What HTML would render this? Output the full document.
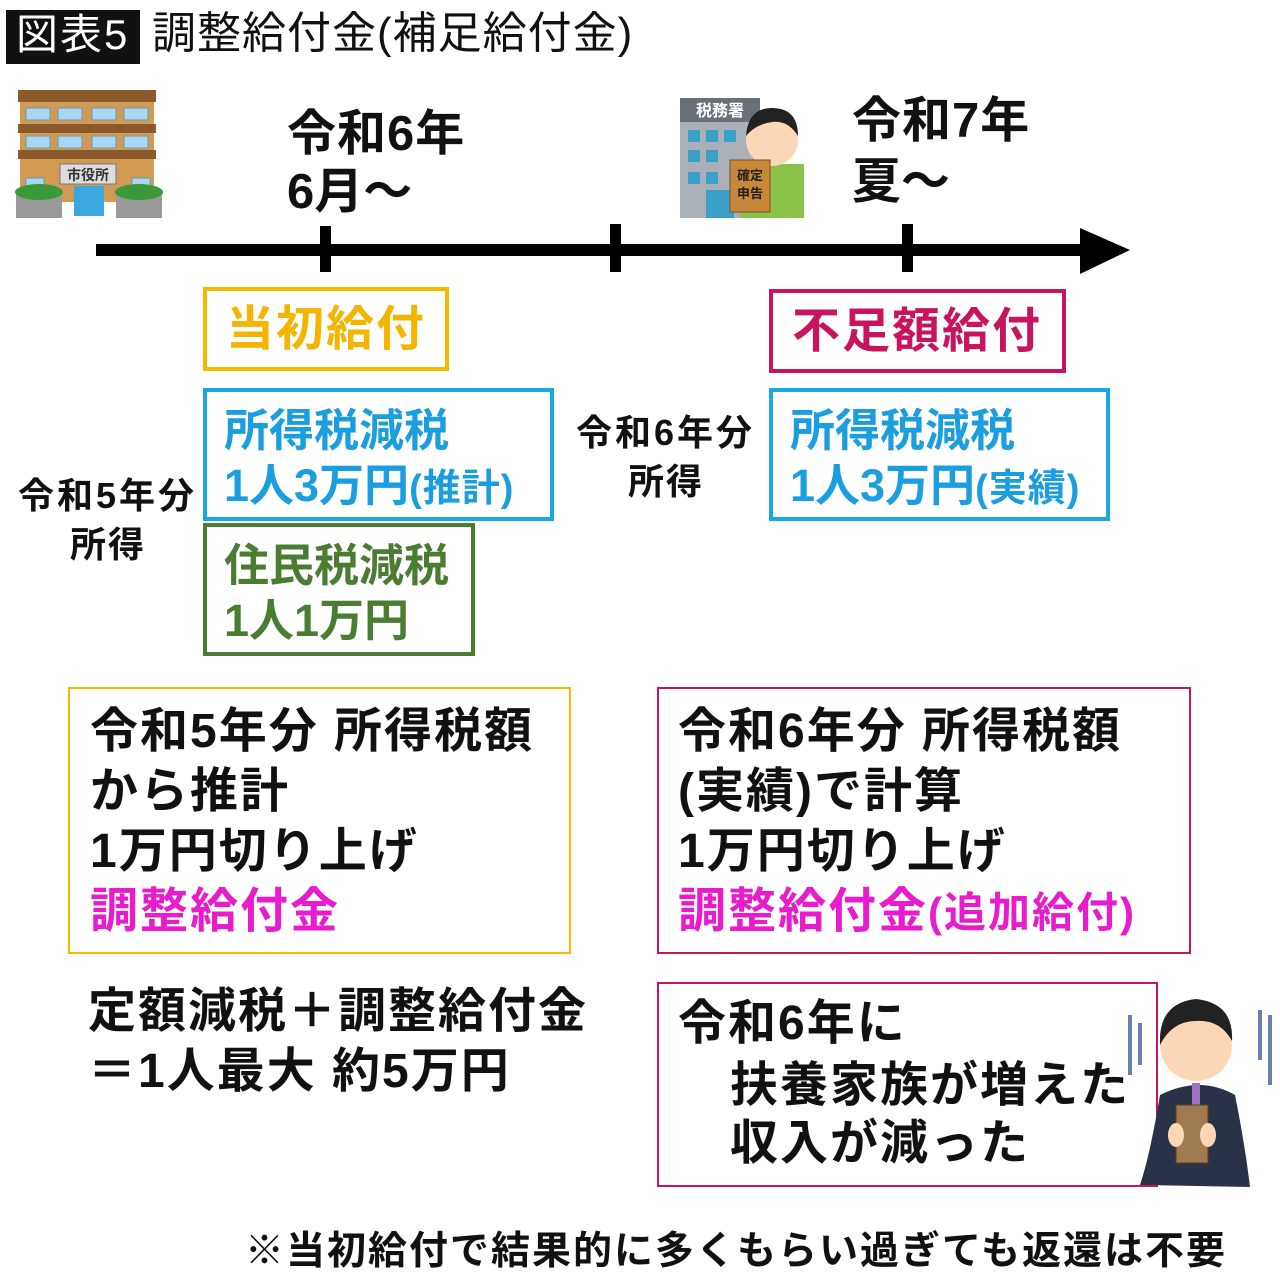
<!DOCTYPE html>
<html><head><meta charset="utf-8">
<style>
body{margin:0;width:1280px;height:1275px;background:#fff;position:relative;overflow:hidden;font-family:"Liberation Sans","Noto Sans CJK JP",sans-serif;font-weight:bold;color:#111}
.t{position:absolute;line-height:1;white-space:nowrap}
.b{position:absolute;box-sizing:border-box}
.k{font-size:48px;letter-spacing:2px}
</style></head><body>
<!-- title -->
<div class="b" style="left:6px;top:10px;width:134px;height:54px;background:#111"></div>
<div class="t" style="left:16px;top:14px;font-size:42px;color:#fff;font-weight:normal;letter-spacing:2px">図表5</div>
<div class="t" style="left:152px;top:12px;font-size:44px;font-weight:normal;letter-spacing:1px">調整給付金(補足給付金)</div>

<!-- city hall icon -->
<svg style="position:absolute;left:14px;top:86px" width="152" height="135">
<rect x="4" y="4" width="138" height="12" fill="#8a5a2b"/>
<rect x="6" y="16" width="134" height="100" fill="#d39a55"/>
<rect x="4" y="38" width="138" height="9" fill="#8a5a2b"/>
<rect x="4" y="64" width="138" height="9" fill="#8a5a2b"/>
<g fill="#a8d8f0" stroke="#6a9ab0"><rect x="12" y="22" width="24" height="12"/><rect x="44" y="22" width="24" height="12"/><rect x="78" y="22" width="24" height="12"/><rect x="110" y="22" width="24" height="12"/>
<rect x="12" y="50" width="24" height="12"/><rect x="44" y="50" width="24" height="12"/><rect x="78" y="50" width="24" height="12"/><rect x="110" y="50" width="24" height="12"/>
<rect x="12" y="92" width="18" height="12"/><rect x="118" y="92" width="18" height="12"/></g>
<rect x="46" y="78" width="56" height="20" fill="#ddd" stroke="#777"/>
<text x="74" y="94" font-size="14" text-anchor="middle" fill="#333" font-family="Noto Sans CJK JP">市役所</text>
<rect x="60" y="100" width="30" height="30" fill="#3aa8e0"/>
<rect x="2" y="106" width="46" height="26" fill="#999"/><rect x="102" y="106" width="46" height="26" fill="#999"/>
<ellipse cx="25" cy="106" rx="24" ry="8" fill="#3a9a3a"/><ellipse cx="125" cy="106" rx="24" ry="8" fill="#3a9a3a"/>
</svg>

<!-- tax office icon -->
<svg style="position:absolute;left:676px;top:94px" width="130" height="125">
<rect x="4" y="4" width="80" height="120" fill="#aab0b8"/>
<rect x="4" y="4" width="80" height="24" fill="#6a7078"/>
<text x="44" y="22" font-size="16" text-anchor="middle" fill="#fff" font-family="Noto Sans CJK JP">税務署</text>
<g fill="#3aa0c8"><rect x="12" y="36" width="12" height="12"/><rect x="30" y="36" width="12" height="12"/><rect x="48" y="36" width="12" height="12"/><rect x="12" y="56" width="12" height="12"/><rect x="30" y="56" width="12" height="12"/><rect x="12" y="78" width="12" height="12"/><rect x="30" y="78" width="12" height="12"/><rect x="30" y="96" width="28" height="28"/></g>
<rect x="64" y="70" width="64" height="54" fill="#8bc34a"/>
<circle cx="96" cy="46" r="26" fill="#fcd7b6"/>
<path d="M70 42 Q72 14 96 14 Q122 14 122 42 Q112 26 96 28 Q80 30 70 42Z" fill="#222"/>
<rect x="54" y="66" width="40" height="52" fill="#c8883a" stroke="#7a5020"/>
<text x="74" y="86" font-size="13" text-anchor="middle" fill="#222" font-family="Noto Sans CJK JP">確定</text>
<text x="74" y="104" font-size="13" text-anchor="middle" fill="#222" font-family="Noto Sans CJK JP">申告</text>
</svg>

<!-- dates -->
<div class="t" style="left:287px;top:110px;font-size:49px;letter-spacing:1px">令和6年</div>
<div class="t" style="left:287px;top:168px;font-size:49px">6月～</div>
<div class="t" style="left:852px;top:97px;font-size:49px;letter-spacing:1px">令和7年</div>
<div class="t" style="left:852px;top:158px;font-size:49px">夏～</div>

<!-- timeline -->
<div class="b" style="left:96px;top:244px;width:1000px;height:12px;background:#000"></div>
<svg style="position:absolute;left:1080px;top:226px" width="52" height="50"><polygon points="0,2 50,24 0,48" fill="#000"/></svg>
<div class="b" style="left:320px;top:226px;width:11px;height:46px;background:#000"></div>
<div class="b" style="left:610px;top:224px;width:11px;height:48px;background:#000"></div>
<div class="b" style="left:902px;top:224px;width:11px;height:48px;background:#000"></div>

<!-- label boxes -->
<div class="b" style="left:203px;top:287px;width:246px;height:84px;border:4px solid #f7b800"></div>
<div class="t" style="left:226px;top:306px;font-size:48px;letter-spacing:2px;color:#f5b400">当初給付</div>
<div class="b" style="left:769px;top:289px;width:297px;height:84px;border:4px solid #c8145e"></div>
<div class="t" style="left:792px;top:308px;font-size:48px;letter-spacing:2px;color:#c8145e">不足額給付</div>

<div class="b" style="left:203px;top:388px;width:351px;height:133px;border:4px solid #1aa8e4"></div>
<div class="t" style="left:224px;top:408px;font-size:45px;color:#1a9ee0">所得税減税</div>
<div class="t" style="left:224px;top:463px;font-size:45px;color:#1a9ee0">1人3万円<span style="font-size:38px;letter-spacing:1px">(推計)</span></div>
<div class="b" style="left:203px;top:523px;width:272px;height:133px;border:4px solid #4a7c32"></div>
<div class="t" style="left:224px;top:543px;font-size:45px;color:#4a7c32">住民税減税</div>
<div class="t" style="left:224px;top:598px;font-size:45px;color:#4a7c32">1人1万円</div>
<div class="b" style="left:769px;top:388px;width:341px;height:133px;border:4px solid #1aa8e4"></div>
<div class="t" style="left:790px;top:408px;font-size:45px;color:#1a9ee0">所得税減税</div>
<div class="t" style="left:790px;top:463px;font-size:45px;color:#1a9ee0">1人3万円<span style="font-size:38px;letter-spacing:1px">(実績)</span></div>

<div class="t" style="left:18px;top:478px;font-size:36px;letter-spacing:3px">令和5年分</div>
<div class="t" style="left:70px;top:527px;font-size:36px;letter-spacing:2px">所得</div>
<div class="t" style="left:576px;top:415px;font-size:36px;letter-spacing:3px">令和6年分</div>
<div class="t" style="left:628px;top:464px;font-size:36px;letter-spacing:2px">所得</div>

<!-- explanation boxes -->
<div class="b" style="left:68px;top:687px;width:503px;height:267px;border:2px solid #f7b800"></div>
<div class="t k" style="left:90px;top:708px">令和5年分 所得税額</div>
<div class="t k" style="left:90px;top:768px">から推計</div>
<div class="t k" style="left:90px;top:828px">1万円切り上げ</div>
<div class="t k" style="left:90px;top:888px;color:#e81ccc">調整給付金</div>

<div class="b" style="left:657px;top:687px;width:534px;height:267px;border:2px solid #c8145e"></div>
<div class="t k" style="left:678px;top:708px">令和6年分 所得税額</div>
<div class="t k" style="left:678px;top:768px">(実績)で計算</div>
<div class="t k" style="left:678px;top:828px">1万円切り上げ</div>
<div class="t k" style="left:678px;top:888px;color:#e81ccc">調整給付金<span style="font-size:42px">(追加給付)</span></div>

<div class="t k" style="left:88px;top:988px">定額減税＋調整給付金</div>
<div class="t k" style="left:88px;top:1048px">＝1人最大 約5万円</div>

<div class="b" style="left:657px;top:982px;width:501px;height:205px;border:2px solid #c8145e"></div>
<div class="t k" style="left:678px;top:1000px">令和6年に</div>
<div class="t k" style="left:730px;top:1062px">扶養家族が増えた</div>
<div class="t k" style="left:730px;top:1120px">収入が減った</div>

<!-- worried man -->
<svg style="position:absolute;left:1120px;top:975px" width="160" height="225">
<g stroke="#6a80b0" stroke-width="4"><line x1="10" y1="40" x2="10" y2="100"/><line x1="20" y1="48" x2="20" y2="90"/><line x1="140" y1="35" x2="140" y2="85"/><line x1="150" y1="40" x2="150" y2="110"/></g>
<path d="M40 120 Q30 180 20 210 L130 212 Q125 170 115 120 Q80 100 40 120Z" fill="#2a3248"/>
<circle cx="76" cy="70" r="36" fill="#fcd7b6"/>
<path d="M40 70 Q38 28 76 24 Q114 28 112 66 Q100 44 76 46 Q52 46 40 70Z" fill="#222"/>
<rect x="72" y="108" width="8" height="40" fill="#a070c0"/>
<rect x="56" y="130" width="32" height="58" fill="#a07a50" stroke="#604020"/>
<ellipse cx="56" cy="160" rx="8" ry="12" fill="#fcd7b6"/><ellipse cx="88" cy="160" rx="8" ry="12" fill="#fcd7b6"/>
</svg>

<div class="t" style="left:245px;top:1232px;font-size:39px;letter-spacing:2px">※当初給付で結果的に多くもらい過ぎても返還は不要</div>
</body></html>
